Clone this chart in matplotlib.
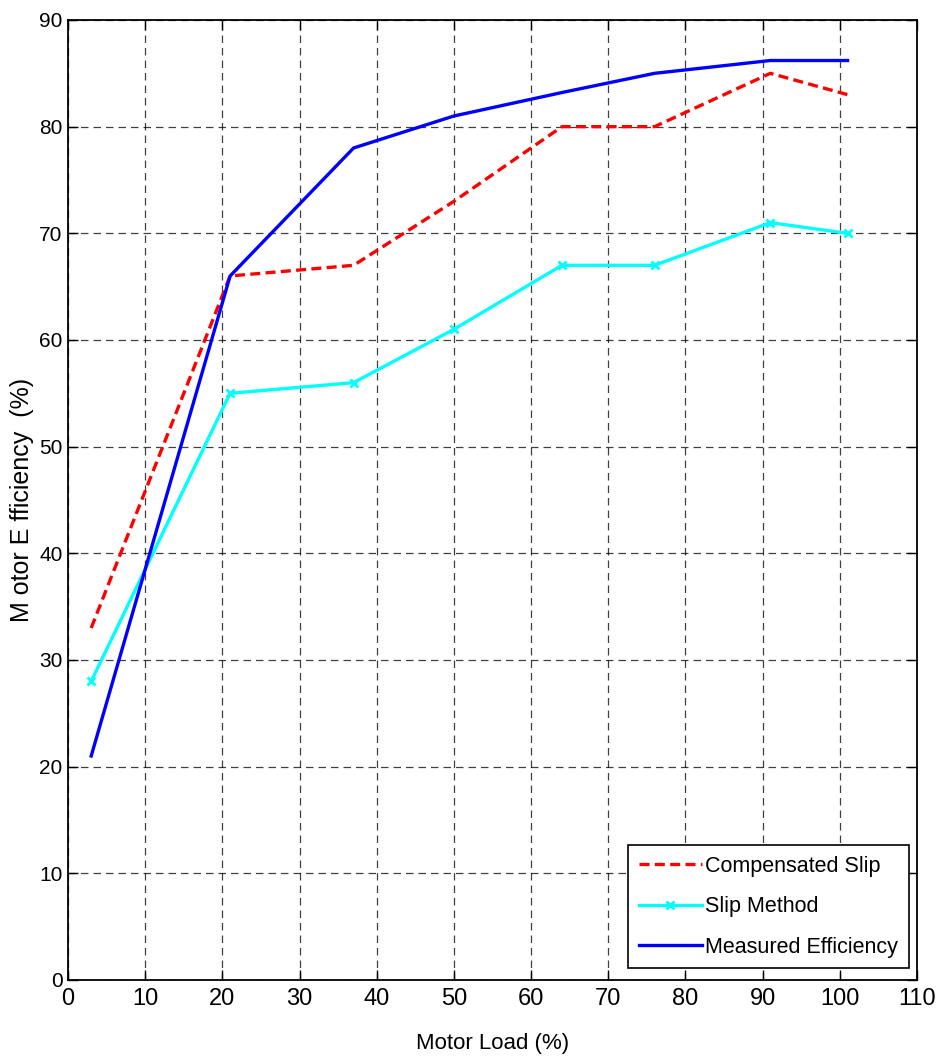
import matplotlib
matplotlib.use("Agg")
import matplotlib.pyplot as plt

# Motor load (%) and efficiency (%) for the three estimation methods
load = [3, 21, 37, 50, 64, 76, 91, 101]
compensated_slip = [33, 66, 67, 73, 80, 80, 85, 83]
slip_method = [28, 55, 56, 61, 67, 67, 71, 70]
measured = [21, 66, 78, 81, 83.2, 85, 86.2, 86.2]

x_ticks = list(range(0, 111, 10))
y_ticks = list(range(0, 91, 10))

font = "Liberation Sans"

fig = plt.figure(figsize=(9.41, 10.63), dpi=100)
ax = fig.add_axes([0.0723, 0.0781, 0.9022, 0.9031])

ax.plot(load, compensated_slip, color="red", linestyle=(0, (3, 1.6)), linewidth=2.4,
        label="Compensated Slip")
ax.plot(load, slip_method, color="cyan", linewidth=2.4, marker="x", markersize=6,
        markeredgewidth=2, label="Slip Method")
ax.plot(load, measured, color="blue", linewidth=2.4, label="Measured Efficiency")

ax.set_xlim(0, 110)
ax.set_ylim(0, 90)
ax.set_xticks(x_ticks)
ax.set_yticks(y_ticks)
ax.grid(True, color="black", linestyle=(0, (6, 4)), linewidth=0.9, alpha=0.75)
ax.tick_params(direction="in", top=True, right=True, length=7, width=1)
for lbl in ax.get_xticklabels():
    lbl.set_fontfamily(font)
    lbl.set_fontsize(17)
for lbl in ax.get_yticklabels():
    lbl.set_fontfamily(font)
    lbl.set_fontsize(15)
ax.tick_params(axis="x", pad=6)
ax.tick_params(axis="y", pad=4)
for s in ax.spines.values():
    s.set_linewidth(1.3)

ax.set_xlabel("Motor Load (%)", fontfamily=font, fontsize=16, labelpad=16)
ax.set_ylabel("M otor E fficiency  (%)", fontfamily=font, fontsize=18, labelpad=4)

leg = ax.legend(loc="lower right", prop={"family": font, "size": 15.5},
                fancybox=False, edgecolor="black", framealpha=1,
                handlelength=2.9, handletextpad=0.15, borderpad=0.5,
                labelspacing=0.9, borderaxespad=0.0,
                bbox_to_anchor=(0.99, 0.012))
leg.get_frame().set_linewidth(1.2)

fig.savefig("out.png", dpi=100)
